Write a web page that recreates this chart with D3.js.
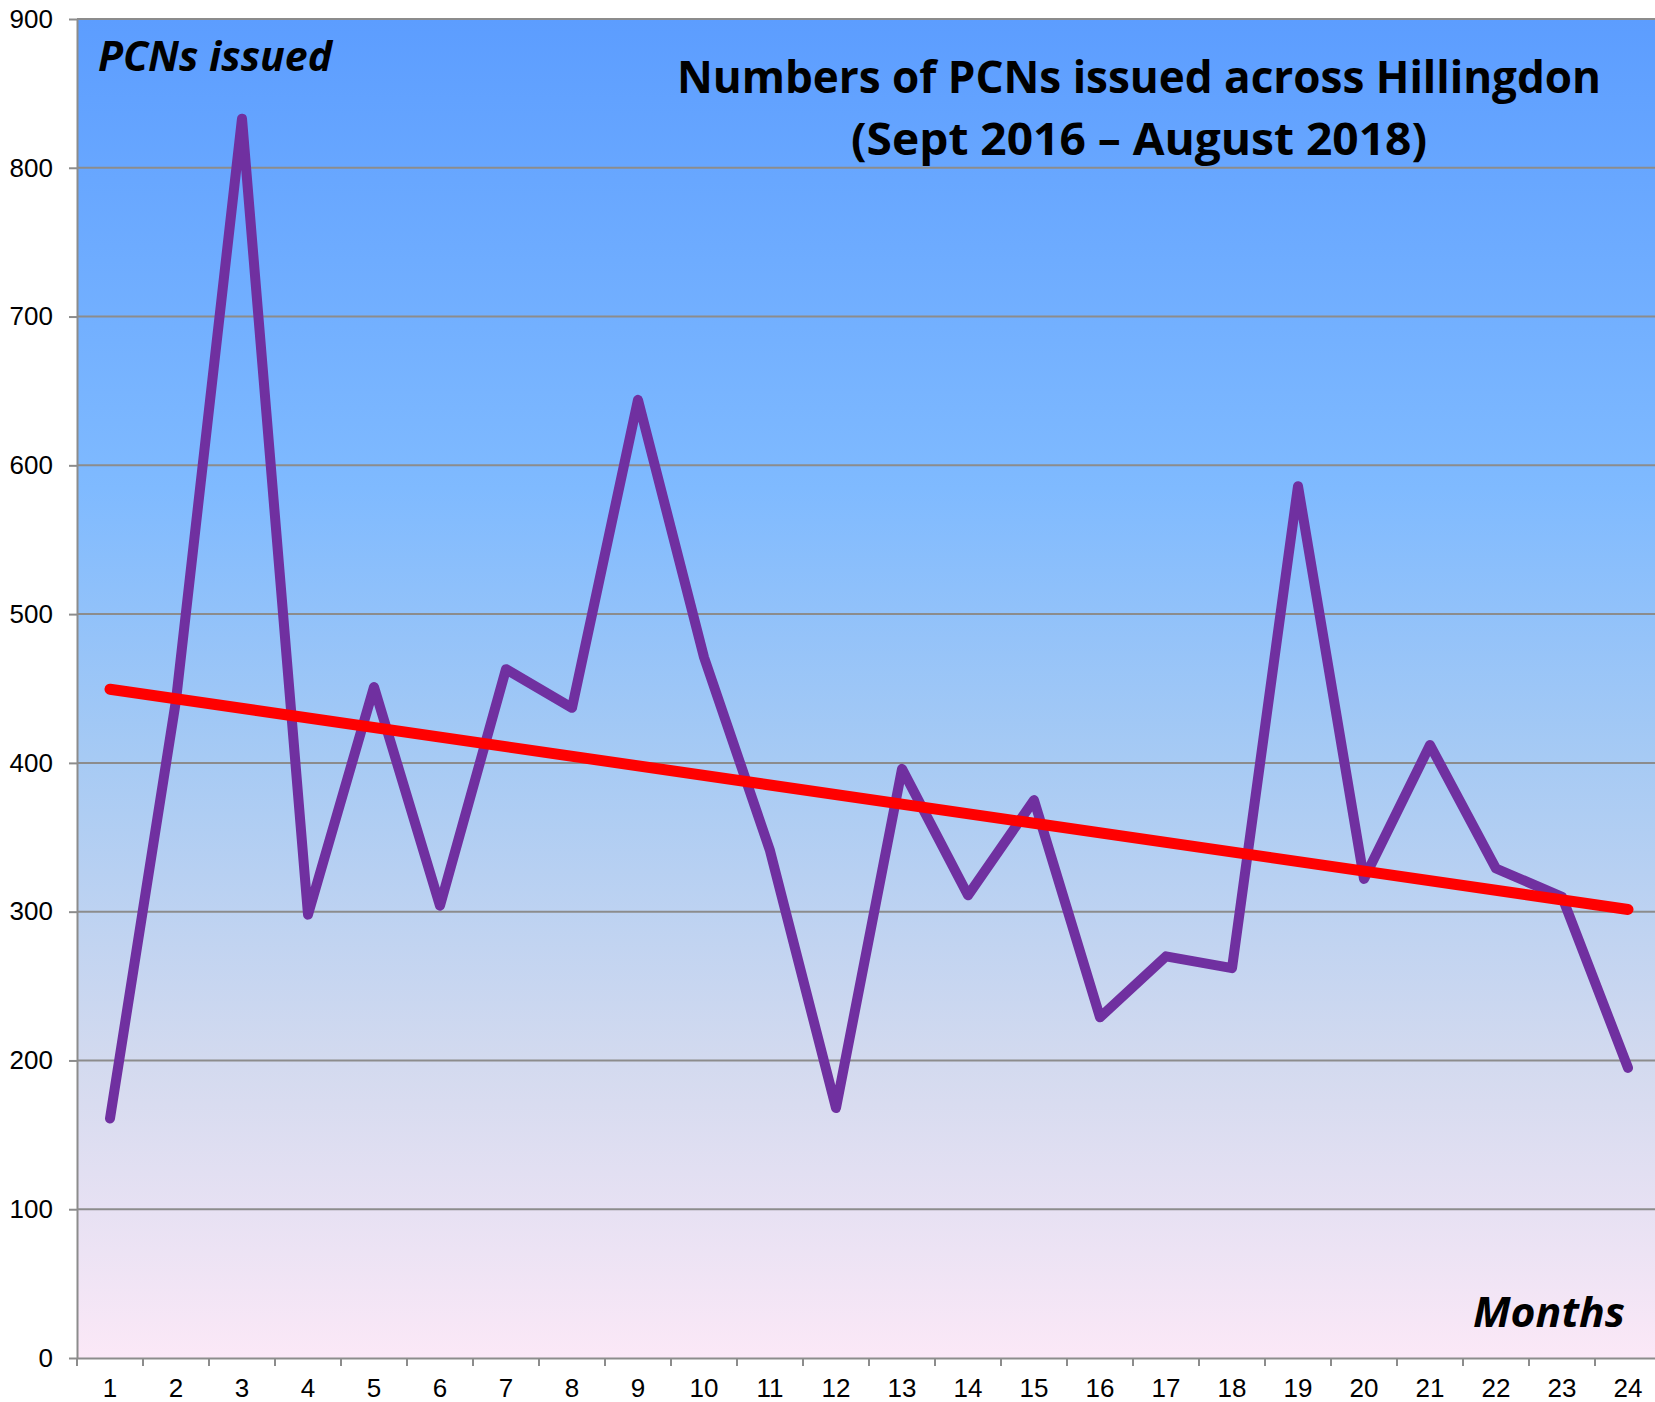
<!DOCTYPE html>
<html>
<head>
<meta charset="utf-8">
<script src="https://cdn.jsdelivr.net/npm/d3@7"></script>
<style>
  html, body { margin: 0; padding: 0; background: #fff; }
  svg { display: block; }
  .tick text { font-family: "Liberation Sans", Arial, sans-serif; font-size: 26px; fill: #000; }
  .lbl { font-family: "Open Sans", "Noto Sans", sans-serif; font-weight: bold; fill: #000; }
</style>
</head>
<body>
<svg id="chart" width="1655" height="1402"></svg>
<script>
// months 1..24 (Sept 2016 - August 2018)
const months = d3.range(1, 25);
// PCNs issued per month
const pcns = [161, 442, 833, 298, 451, 304, 463, 437, 644, 471, 341, 168,
              396, 311, 375, 229, 270, 262, 586, 322, 412, 329, 310, 195];
// linear trend line, start and end values
const trendMonths = [1, 24];
const trendValues = [449.5, 301.5];
const yTicks = [0, 100, 200, 300, 400, 500, 600, 700, 800, 900];

const svg = d3.select('#chart');

// plot area (runs off the right side a little, like the original)
const plot = { left: 77, top: 19, right: 1661, bottom: 1358 };

const x = d3.scaleBand().domain(months).range([plot.left, plot.right]).padding(0);
const cx = d => x(d) + x.bandwidth() / 2;
const y = d3.scaleLinear().domain([0, 900]).range([plot.bottom, plot.top]);

// background gradient
const grad = svg.append('defs').append('linearGradient')
    .attr('id', 'bg').attr('x1', 0).attr('y1', 0).attr('x2', 0).attr('y2', 1);
[[0, '#5c9dff'], [0.35, '#7fbaff'], [0.55, '#a6caf4'], [0.78, '#d3daef'], [1, '#fbe8f7']]
  .forEach(s => grad.append('stop').attr('offset', s[0]).attr('stop-color', s[1]));

svg.append('rect')
    .attr('x', plot.left).attr('y', plot.top)
    .attr('width', plot.right - plot.left).attr('height', plot.bottom - plot.top)
    .attr('fill', 'url(#bg)');

// gridlines
svg.append('g').selectAll('line')
  .data(yTicks.filter(d => d > 0))
  .enter().append('line')
    .attr('x1', plot.left).attr('x2', plot.right)
    .attr('y1', d => y(d)).attr('y2', d => y(d))
    .attr('stroke', '#8c8c8c').attr('stroke-width', 2);

// y axis
const yAxis = svg.append('g')
    .attr('transform', `translate(${plot.left},0)`)
    .call(d3.axisLeft(y).tickValues(yTicks).tickSize(8).tickSizeOuter(0).tickPadding(16));
yAxis.selectAll('line, path').attr('stroke', '#8c8c8c').attr('stroke-width', 2);

// x axis: labels centred in each band, ticks on the band edges
const xAxis = svg.append('g')
    .attr('transform', `translate(0,${plot.bottom})`)
    .call(d3.axisBottom(x).tickSize(0).tickSizeOuter(0).tickPadding(21));
xAxis.select('path').attr('stroke', '#8c8c8c').attr('stroke-width', 2);

svg.append('g').selectAll('line')
  .data(months.map(m => x(m)).concat([plot.right]))
  .enter().append('line')
    .attr('x1', d => d).attr('x2', d => d)
    .attr('y1', plot.bottom).attr('y2', plot.bottom + 8)
    .attr('stroke', '#8c8c8c').attr('stroke-width', 2);

// data line
const line = d3.line()
    .x((d, i) => cx(months[i]))
    .y(d => y(d));

svg.append('path')
    .datum(pcns)
    .attr('d', line)
    .attr('fill', 'none')
    .attr('stroke', '#7030a0')
    .attr('stroke-width', 10)
    .attr('stroke-linejoin', 'round')
    .attr('stroke-linecap', 'round');

// trend line
const trendLine = d3.line()
    .x((d, i) => cx(trendMonths[i]))
    .y(d => y(d));

svg.append('path')
    .datum(trendValues)
    .attr('d', trendLine)
    .attr('fill', 'none')
    .attr('stroke', '#ff0000')
    .attr('stroke-width', 11)
    .attr('stroke-linecap', 'round');

// texts
svg.append('text').attr('class', 'lbl')
    .attr('x', 98).attr('y', 71)
    .attr('font-size', 42).attr('font-style', 'italic')
    .attr('textLength', 234).attr('lengthAdjust', 'spacingAndGlyphs')
    .text('PCNs issued');

svg.append('text').attr('class', 'lbl')
    .attr('x', 1625).attr('y', 1327)
    .attr('text-anchor', 'end')
    .attr('font-size', 42).attr('font-style', 'italic')
    .attr('textLength', 152).attr('lengthAdjust', 'spacingAndGlyphs')
    .text('Months');

svg.append('text').attr('class', 'lbl')
    .attr('x', 1139).attr('y', 93)
    .attr('text-anchor', 'middle')
    .attr('font-size', 45)
    .attr('textLength', 924).attr('lengthAdjust', 'spacingAndGlyphs')
    .text('Numbers of PCNs issued across Hillingdon');

svg.append('text').attr('class', 'lbl')
    .attr('x', 1139).attr('y', 155)
    .attr('text-anchor', 'middle')
    .attr('font-size', 45)
    .attr('textLength', 576).attr('lengthAdjust', 'spacingAndGlyphs')
    .text('(Sept 2016 \u2013 August 2018)');
</script>
</body>
</html>
